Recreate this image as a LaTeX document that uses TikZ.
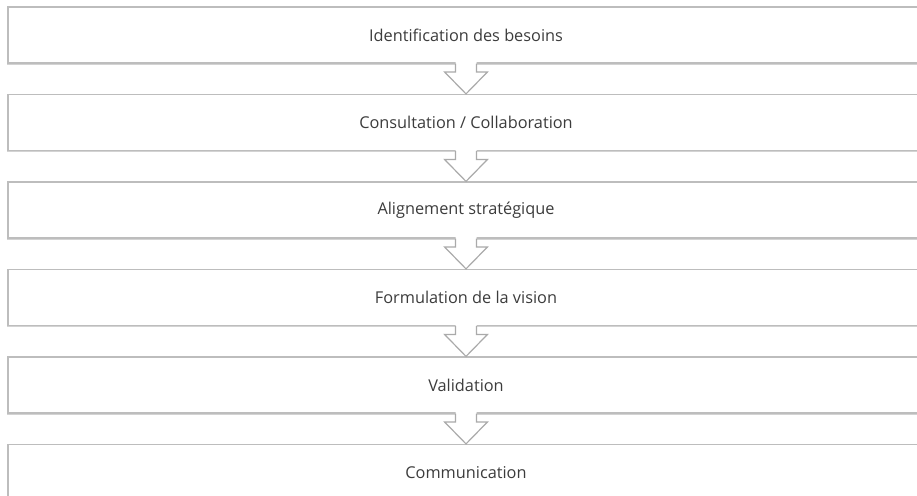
\documentclass[tikz,border=0pt]{standalone}
\usepackage{fontspec}
\setmainfont{Open Sans}
\usepackage{xcolor}
\usetikzlibrary{calc, positioning, shadows}

\definecolor{boxline}{HTML}{BDBDBD}
\definecolor{steptext}{HTML}{3C3C3C}

\begin{document}
\begin{tikzpicture}[
  x=1pt, y=1pt,
  every node/.style={font=\fontsize{16.3}{18}\selectfont, text=steptext},
  stepbox/.style={draw=boxline, line width=1.2pt, fill=white, minimum width=916pt, minimum height=56pt,
    inner sep=0pt, drop shadow={shadow xshift=-0.6pt, shadow yshift=-1.6pt, opacity=0.35, fill=gray}},
  flowarrow/.style={draw=boxline!90!black, line width=1.2pt, line join=miter}
]
\useasboundingbox (0,0) rectangle (917,-495);
\node[stepbox] (s1) at (466,-35) {Identification des besoins};
\node[stepbox, below=30.3pt of s1] (s2) {Consultation / Collaboration};
\node[stepbox, below=30.3pt of s2] (s3) {Alignement stratégique};
\node[stepbox, below=30.3pt of s3] (s4) {Formulation de la vision};
\node[stepbox, below=30.3pt of s4] (s5) {Validation};
\node[stepbox, below=30.3pt of s5] (s6) {Communication};
\foreach \a/\b in {s1/s2, s2/s3, s3/s4, s4/s5, s5/s6} {
  \fill[white] ($(\a.south)+(-10.5,1.5)$) -- ($(\b.north)+(-10.5,22)$) -- ($(\b.north)+(-21.5,22)$)
    -- (\b.north) -- ($(\b.north)+(21.5,22)$) -- ($(\b.north)+(10.5,22)$) -- ($(\a.south)+(10.5,1.5)$) -- cycle;
  \draw[flowarrow] ($(\a.south)+(-10.5,0)$) -- ($(\b.north)+(-10.5,22)$) -- ($(\b.north)+(-21.5,22)$)
    -- (\b.north) -- ($(\b.north)+(21.5,22)$) -- ($(\b.north)+(10.5,22)$) -- ($(\a.south)+(10.5,0)$);
}
\end{tikzpicture}
\end{document}
